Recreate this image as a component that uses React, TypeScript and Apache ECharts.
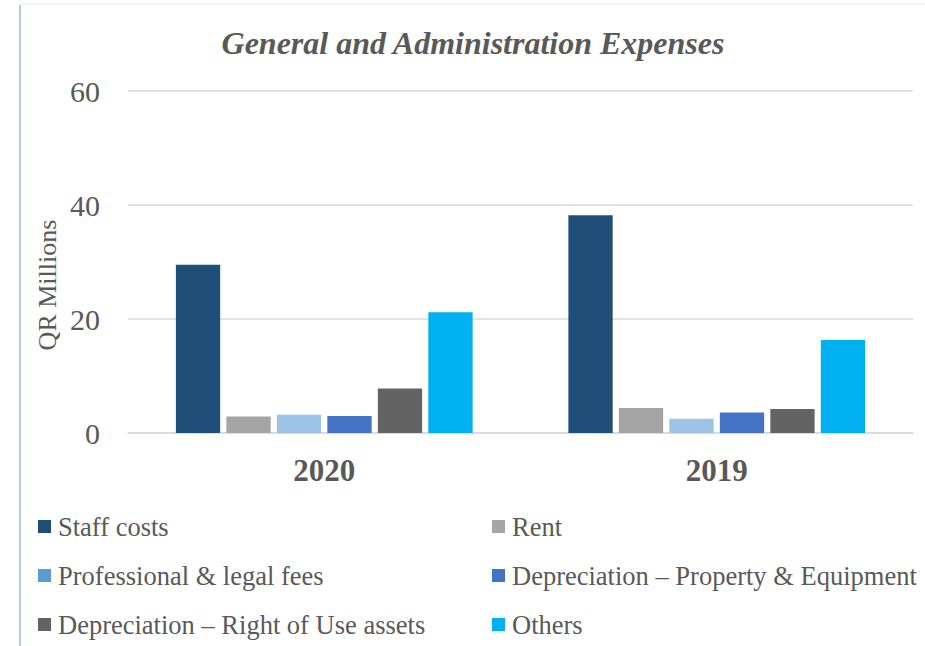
import React, { useEffect, useRef } from "react";
import * as echarts from "echarts";

const categories = ["2020", "2019"];
const seriesNames = [
  "Staff costs",
  "Rent",
  "Professional & legal fees",
  "Depreciation – Property & Equipment",
  "Depreciation – Right of Use assets",
  "Others",
];
const staffCosts = [29.5, 38.2];
const rent = [2.9, 4.4];
const professionalFees = [3.2, 2.5];
const depreciationPE = [3.0, 3.6];
const depreciationRoU = [7.8, 4.2];
const others = [21.2, 16.3];
const yTicks = [0, 20, 40, 60];

const barColors = ["#1F4E79", "#A5A5A5", "#9DC3E6", "#4472C4", "#636363", "#00B0F0"];
const legendColors = ["#1F4E79", "#A5A5A5", "#5B9BD5", "#4472C4", "#636363", "#00B0F0"];

const FONT = "'Liberation Serif', 'Times New Roman', serif";

export default function App() {
  const ref = useRef<HTMLDivElement>(null);
  useEffect(() => {
    if (!ref.current) return;
    const chart = echarts.init(ref.current, null, { renderer: "svg" });
    const values = [staffCosts, rent, professionalFees, depreciationPE, depreciationRoU, others];
    const legendItem = (i: number) => ({
      name: seriesNames[i],
      itemStyle: { color: legendColors[i] },
    });
    const legendCommon = {
      orient: "vertical" as const,
      icon: "rect",
      itemWidth: 13,
      itemHeight: 13,
      itemGap: 22,
      selectedMode: false,
      textStyle: { fontFamily: FONT, fontSize: 26.5, color: "#595959", padding: [0, 0, 0, 2] },
      top: 508,
    };
    chart.setOption({
      animation: false,
      backgroundColor: "#ffffff",
      title: {
        text: "General and Administration Expenses",
        left: 468,
        top: 22,
        textAlign: "center",
        textStyle: {
          fontFamily: FONT,
          fontSize: 32,
          fontStyle: "italic",
          fontWeight: "bold",
          color: "#595959",
        },
      },
      legend: [
        { ...legendCommon, left: 33, data: [0, 2, 4].map(legendItem) },
        { ...legendCommon, left: 487, data: [1, 3, 5].map(legendItem) },
      ],
      grid: { left: 128, right: 12, top: 91, bottom: 213 },
      xAxis: {
        type: "category",
        data: categories,
        axisLine: { lineStyle: { color: "#D9D9D9", width: 1.5 } },
        axisTick: { show: false },
        axisLabel: {
          fontFamily: FONT,
          fontSize: 31,
          fontWeight: "bold",
          color: "#595959",
          margin: 22,
        },
      },
      yAxis: {
        type: "value",
        min: 0,
        max: yTicks[yTicks.length - 1],
        interval: yTicks[1] - yTicks[0],
        axisLine: { show: false },
        axisTick: { show: false },
        splitLine: { lineStyle: { color: "#D9D9D9", width: 1.5 } },
        axisLabel: {
          fontFamily: FONT,
          fontSize: 30,
          color: "#595959",
          margin: 28,
        },
      },
      graphic: [
        {
          type: "line",
          shape: { x1: 20, y1: 5, x2: 20, y2: 646 },
          style: { stroke: "#B4C7E7", lineWidth: 2 },
          silent: true,
        },
        {
          type: "line",
          shape: { x1: 20, y1: 4, x2: 925, y2: 4 },
          style: { stroke: "#EEF2F8", lineWidth: 1.5 },
          silent: true,
        },
        {
          type: "text",
          x: 47,
          y: 285,
          rotation: Math.PI / 2,
          style: {
            text: "QR Millions",
            fontFamily: FONT,
            fontSize: 26,
            fill: "#595959",
            textAlign: "center",
            textVerticalAlign: "middle",
          },
        },
      ],
      series: seriesNames.map((name, i) => ({
        name,
        type: "bar",
        data: values[i],
        barGap: "14%",
        barCategoryGap: "24.4%",
        itemStyle: { color: barColors[i] },
      })),
    });
    return () => chart.dispose();
  }, []);
  return (
    <div
      ref={ref}
      style={{ position: "fixed", left: 0, top: 0, width: 925, height: 646 }}
    />
  );
}
